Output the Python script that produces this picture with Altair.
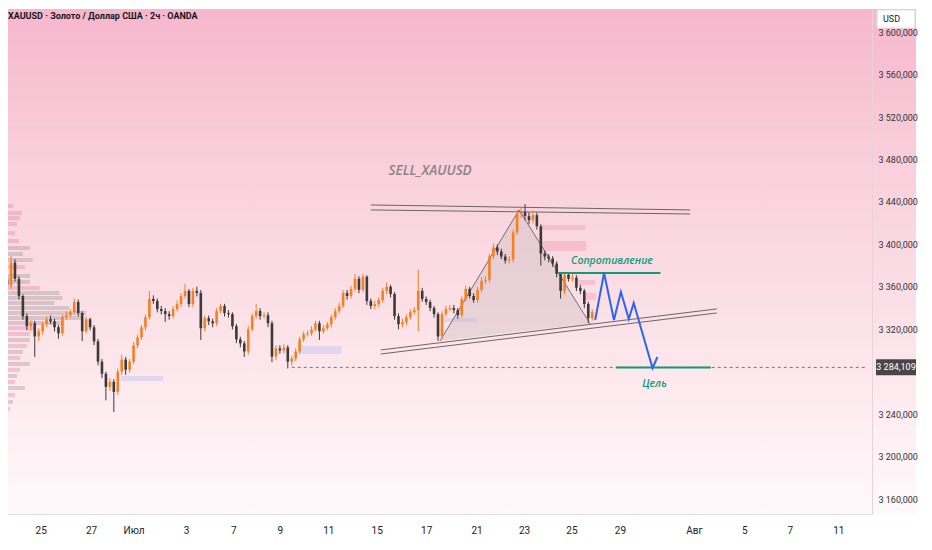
import altair as alt
import pandas as pd

W, H = 864, 505
FONT = "Roboto, Liberation Sans, sans-serif"

# ---------------- data ----------------
first_open = 3368.0
closes = [3361.0, 3382.9, 3367.6, 3351.4, 3332.4, 3322.9, 3325.7, 3313.3, 3318.1, 3324.8,
          3329.5, 3327.6, 3321.9, 3316.2, 3331.4, 3333.3, 3336.2, 3345.7, 3335.3, 3318.1,
          3329.5, 3321.9, 3308.6, 3289.5, 3278.1, 3265.7, 3270.5, 3261.0, 3280.0, 3291.4,
          3281.9, 3289.5, 3304.8, 3312.4, 3321.9, 3331.4, 3348.6, 3346.7, 3339.1, 3337.2,
          3334.3, 3332.4, 3339.1, 3343.8, 3351.4, 3356.2, 3343.8, 3356.2, 3354.3, 3321.0,
          3330.5, 3327.6, 3325.7, 3337.2, 3341.9, 3335.3, 3334.3, 3322.9, 3310.5, 3306.7,
          3299.1, 3320.0, 3332.4, 3337.2, 3332.4, 3333.3, 3325.7, 3294.3, 3301.9, 3300.0,
          3302.9, 3289.5, 3292.4, 3299.1, 3310.5, 3315.3, 3316.2, 3320.0, 3325.7, 3318.1,
          3321.0, 3324.8, 3331.4, 3337.2, 3341.9, 3354.3, 3351.4, 3358.1, 3367.6, 3357.2,
          3369.5, 3346.7, 3341.9, 3343.8, 3347.6, 3356.2, 3360.0, 3353.3, 3332.4, 3324.8,
          3326.7, 3331.4, 3336.2, 3338.1, 3356.2, 3348.6, 3345.7, 3340.0, 3334.3, 3313.3,
          3334.3, 3339.1, 3340.0, 3338.1, 3333.3, 3348.6, 3358.1, 3351.4, 3347.6, 3357.2,
          3365.7, 3366.7, 3388.6, 3397.2, 3393.3, 3388.6, 3384.8, 3385.7, 3411.4, 3428.6,
          3430.5, 3426.7, 3422.9, 3427.6, 3417.2, 3391.4, 3388.6, 3386.7, 3381.9, 3372.4,
          3356.2, 3371.4, 3367.6, 3368.6, 3359.1, 3356.2, 3343.8, 3330.5, 3336.2]
highs = [3371, 3389, 3386, 3370, 3353, 3335, 3329, 3328, 3321, 3327,
         3332, 3333, 3330, 3324, 3334, 3337, 3339, 3349, 3348, 3337,
         3332, 3331, 3324, 3311, 3292, 3280, 3274, 3273, 3283, 3296,
         3294, 3292, 3308, 3315, 3324, 3334, 3356, 3352, 3349, 3342,
         3340, 3337, 3342, 3347, 3354, 3363, 3358, 3359, 3360, 3357,
         3333, 3333, 3330, 3340, 3344, 3344, 3338, 3336, 3325, 3313,
         3309, 3323, 3335, 3344, 3340, 3336, 3336, 3328, 3305, 3305,
         3306, 3305, 3295, 3302, 3313, 3318, 3319, 3323, 3328, 3328,
         3324, 3327, 3334, 3340, 3345, 3357, 3357, 3361, 3372, 3370,
         3372, 3371, 3349, 3347, 3350, 3359, 3364, 3362, 3355, 3335,
         3330, 3334, 3339, 3341, 3376, 3359, 3351, 3348, 3342, 3336,
         3337, 3342, 3343, 3343, 3340, 3351, 3361, 3360, 3354, 3360,
         3369, 3370, 3391, 3401, 3400, 3396, 3391, 3389, 3414, 3432,
         3435, 3438, 3430, 3432, 3430, 3419, 3394, 3391, 3389, 3384,
         3374, 3374, 3374, 3372, 3371, 3362, 3358, 3346, 3339]
lows = [3358, 3358, 3365, 3348, 3329, 3319, 3318, 3294, 3309, 3315,
        3322, 3325, 3318, 3311, 3314, 3329, 3331, 3334, 3332, 3309,
        3316, 3319, 3305, 3286, 3274, 3253, 3262, 3242, 3258, 3277,
        3277, 3279, 3287, 3302, 3310, 3319, 3329, 3344, 3336, 3334,
        3327, 3329, 3330, 3337, 3341, 3349, 3341, 3341, 3351, 3310,
        3318, 3324, 3322, 3323, 3335, 3332, 3331, 3320, 3307, 3303,
        3294, 3296, 3318, 3330, 3329, 3330, 3322, 3289, 3291, 3297,
        3297, 3283, 3286, 3290, 3297, 3308, 3313, 3314, 3318, 3310,
        3316, 3319, 3322, 3329, 3335, 3340, 3348, 3349, 3356, 3354,
        3355, 3343, 3339, 3339, 3341, 3345, 3353, 3350, 3329, 3320,
        3322, 3324, 3329, 3334, 3318, 3346, 3343, 3337, 3331, 3309,
        3311, 3332, 3337, 3335, 3330, 3331, 3346, 3349, 3345, 3345,
        3355, 3363, 3364, 3386, 3390, 3386, 3382, 3382, 3383, 3409,
        3425, 3423, 3419, 3420, 3414, 3380, 3385, 3383, 3379, 3369,
        3349, 3353, 3365, 3365, 3356, 3353, 3340, 3326, 3328]

# x axis: bar positions of the date labels
x_tick_pos = [9, 21.75, 32.5, 45.75, 57.75, 69.5, 81.75, 94, 106.5, 119.25, 131.25,
              143.25, 155.5, 174.25, 187, 198.5, 210.75]
x_tick_lab = ["25", "27", "Июл", "3", "7", "9", "11", "15", "17", "21", "23", "25",
              "29", "Авг", "5", "7", "11"]
# y axis
y_tick_val = [3160, 3200, 3240, 3320, 3360, 3400, 3440, 3480, 3520, 3560, 3600]
y_tick_lab = ["3 160,000", "3 200,000", "3 240,000", "3 320,000", "3 360,000", "3 400,000",
              "3 440,000", "3 480,000", "3 520,000", "3 560,000", "3 600,000"]

# volume profile on the left (starts at bar 0)
profile_price = [3436.2, 3429.6, 3424.9, 3419.3, 3410.8, 3403.2, 3396.6, 3391.0, 3385.3,
                 3378.7, 3370.3, 3364.6, 3358.9, 3354.2, 3349.5, 3344.8, 3340.1, 3335.4,
                 3330.7, 3326.0, 3321.2, 3315.6, 3309.9, 3304.3, 3298.6, 3293.0, 3287.3,
                 3281.7, 3276.0, 3270.4, 3264.7, 3258.1, 3251.5, 3244.9]
profile_len = [2, 4.25, 3.75, 3, 2.5, 3.5, 6.25, 4.5, 7, 5, 6.25, 6.25, 8.75, 13.75, 14.5,
               12.5, 16.25, 20.5, 19.5, 15, 7.5, 6.25, 6.25, 5.5, 4.5, 3.75, 6.25, 3.75,
               3, 2.5, 5, 2.5, 2, 1.25]
profile_kind = ["p", "p", "p", "p", "p", "p", "g", "g", "g", "p", "g", "g", "p", "g", "g",
                "g", "g", "g", "g", "g", "p", "p", "g", "p", "g", "p", "g", "p", "g", "p",
                "g", "p", "g", "p"]

# zones (order blocks)
zone_x1 = [29.25, 74.25, 110.75, 135.75, 135.75, 145.0, 146.75]
zone_x2 = [40.0, 85.0, 119.25, 146.75, 147.0, 149.25, 149.5]
zone_y1 = [3276.0, 3304.3, 3330.7, 3418.3, 3403.2, 3366.5, 3354.2]
zone_y2 = [3271.3, 3296.7, 3326.9, 3413.6, 3393.8, 3361.8, 3347.6]
zone_kind = ["blue", "blue", "blue", "pink", "pink", "pink", "pink"]

# triangle pattern
tri_bar = [110, 130, 148]
tri_top = [3309.0, 3432.5, 3325.0]
tri_base = [3309.0, 3318.4, 3325.0]

# channel lines
ch_x1 = [92.5, 92.5, 95, 95]
ch_x2 = [173.25, 173.25, 180, 180]
ch_y1 = [3437.2, 3432.5, 3300.5, 3296.7]
ch_y2 = [3432.5, 3428.7, 3339.2, 3335.4]

resist_level, resist_from, resist_to = 3373.1, 140, 165.75
target_level, target_from, target_to = 3284.0, 154.5, 178.5
last_price, dash_from, dash_to = 3284.109, 72.5, 218

zig_bar = [149.25, 151.5, 154, 155.75, 157.75, 159, 163.75, 165]
zig_price = [3328.8, 3373.1, 3328.8, 3355.2, 3329.7, 3344.8, 3283.5, 3293.9]

texts = ["SELL_XAUUSD", "Сопротивление", "Цель"]
text_bar = [107.5, 153.5, 164.25]
text_price = [3469.2, 3384.4, 3268.5]

title_text = "XAUUSD · Золото / Доллар США · 2ч · OANDA"

# ---------------- frames ----------------
opens = [first_open] + closes[:-1]
candles = pd.DataFrame({"bar": [i + 0.5 for i in range(len(closes))], "open": opens,
                        "close": closes, "high": highs, "low": lows})
profile = pd.DataFrame({"price": profile_price, "start": [0] * len(profile_len),
                        "len": profile_len, "kind": profile_kind})
zones = pd.DataFrame({"x1": zone_x1, "x2": zone_x2, "y1": zone_y1, "y2": zone_y2, "kind": zone_kind})
tri = pd.DataFrame({"bar": tri_bar, "top": tri_top, "base": tri_base})
chan = pd.DataFrame({"x1": ch_x1, "x2": ch_x2, "y1": ch_y1, "y2": ch_y2})
greens = pd.DataFrame({"x1": [resist_from, target_from], "x2": [resist_to, target_to],
                       "y": [resist_level, target_level]})
dash = pd.DataFrame({"x1": [dash_from], "x2": [dash_to], "y": [last_price]})
zig = pd.DataFrame({"bar": zig_bar, "price": zig_price, "o": list(range(len(zig_bar)))})
notes = pd.DataFrame({"t": texts, "bar": text_bar, "price": text_price})

# ---------------- scales / axes ----------------
xs = alt.Scale(domain=[2, 218], nice=False, zero=False)
ys = alt.Scale(domain=[3145.9, 3621.9], nice=False, zero=False)

x_expr = " : ".join(f"datum.value == {p} ? '{l}'" for p, l in zip(x_tick_pos, x_tick_lab)) + " : ''"
y_expr = " : ".join(f"datum.value == {v} ? '{l}'" for v, l in zip(y_tick_val, y_tick_lab)) + " : ''"

x_axis = alt.Axis(values=x_tick_pos, labelExpr=x_expr, title=None, grid=False, ticks=False,
                  domainColor="#e4dadd", labelPadding=11, labelFontSize=10, labelColor="#222",
                  labelFont=FONT, zindex=2)
y_axis = alt.Axis(values=y_tick_val, labelExpr=y_expr, title=None, grid=False, ticks=False,
                  orient="right", domainColor="#e9d3da", labelPadding=6, labelFontSize=9,
                  labelColor="#333", labelFont=FONT, zindex=2)


def X(f):
    return alt.X(f, type="quantitative", scale=xs, axis=x_axis)


def Y(f):
    return alt.Y(f, type="quantitative", scale=ys, axis=y_axis)


ORANGE, DARK, GREEN, BLUE = "#f5801f", "#3a3a3a", "#109a78", "#2f66e8"

bg = alt.Chart(alt.Data(values=[{"k": 1}])).mark_rect(
    color=alt.LinearGradient(gradient="linear", x1=0, x2=0, y1=0, y2=1,
                             stops=[alt.GradientStop(color="#f6b7cc", offset=0),
                                    alt.GradientStop(color="#f9cfdb", offset=0.3),
                                    alt.GradientStop(color="#fbe0e7", offset=0.6),
                                    alt.GradientStop(color="#fff9fb", offset=1)])
).encode(x=alt.value(0), x2=alt.value(W + 44), y=alt.value(0), y2=alt.value(H))

prof_p = alt.Chart(profile).transform_filter("datum.kind == 'p'").mark_rule(
    strokeWidth=4, clip=True, opacity=0.4, color="#ec86a5"
).encode(x=X("start"), x2="len", y=Y("price"))
prof_g = alt.Chart(profile).transform_filter("datum.kind == 'g'").mark_rule(
    strokeWidth=4, clip=True, opacity=0.32, color="#8f888b"
).encode(x=X("start"), x2="len", y=Y("price"))

zone_b = alt.Chart(zones).transform_filter("datum.kind == 'blue'").mark_rect(
    opacity=0.55, color="#cdc9f3").encode(x=X("x1"), x2="x2", y=Y("y1"), y2="y2")
zone_p = alt.Chart(zones).transform_filter("datum.kind == 'pink'").mark_rect(
    opacity=0.35, color="#f08fa9").encode(x=X("x1"), x2="x2", y=Y("y1"), y2="y2")

tri_fill = alt.Chart(tri).mark_area(color="#b4adad", opacity=0.25).encode(x=X("bar"), y=Y("top"), y2="base")
tri_line = alt.Chart(tri).mark_line(color="#555", strokeWidth=0.8).encode(x=X("bar"), y=Y("top"))

chan_l = alt.Chart(chan).mark_rule(color="#6d6668", strokeWidth=1).encode(
    x=X("x1"), x2="x2", y=Y("y1"), y2="y2")

dash_l = alt.Chart(dash).mark_rule(color="#7a7275", strokeWidth=1, strokeDash=[3, 3]).encode(
    x=X("x1"), x2="x2", y=Y("y"))

cond = alt.condition("datum.close >= datum.open", alt.value(ORANGE), alt.value(DARK))
wick = alt.Chart(candles).mark_rule(strokeWidth=1, clip=True).encode(
    x=X("bar"), y=Y("low"), y2="high", color=cond)
body = alt.Chart(candles).mark_bar(size=2.6, clip=True).encode(
    x=X("bar"), y=Y("open"), y2="close", color=cond)

green_l = alt.Chart(greens).mark_rule(color=GREEN, strokeWidth=2).encode(x=X("x1"), x2="x2", y=Y("y"))

zig_l = alt.Chart(zig).mark_line(color=BLUE, strokeWidth=2).encode(x=X("bar"), y=Y("price"), order="o:Q")

note_sell = alt.Chart(notes.iloc[[0]]).mark_text(
    font="Open Sans, sans-serif", fontSize=13.5, fontStyle="italic", fontWeight=600,
    color="#8a8487", align="center"
).encode(x=X("bar"), y=Y("price"), text="t:N")
note_green = alt.Chart(notes.iloc[[1, 2]]).mark_text(
    font="Open Sans, sans-serif", fontSize=10.5, fontStyle="italic", fontWeight=600,
    color=GREEN, align="center"
).encode(x=X("bar"), y=Y("price"), text="t:N")

title = alt.Chart(alt.Data(values=[{"t": title_text}])).mark_text(
    font=FONT, fontSize=9, fontWeight="bold", color="#131722", align="left", baseline="middle"
).encode(x=alt.value(0), y=alt.value(7), text="t:N")

tag_df = pd.DataFrame({"price": [last_price], "t": ["3 284,109"]})
tag_box = alt.Chart(tag_df).mark_point(
    shape="M-2.5,-1L2.5,-1L2.5,1L-2.5,1Z", size=256, filled=True, color="#4a4648", opacity=1
).encode(x=alt.value(W + 24), y=Y("price"))
tag_txt = alt.Chart(tag_df).mark_text(font=FONT, fontSize=9, color="white", align="center",
                                      baseline="middle").encode(x=alt.value(W + 24), y=Y("price"), text="t:N")

usd_box = alt.Chart(alt.Data(values=[{"t": "USD"}])).mark_point(
    shape="M-2.1,-1L2.1,-1L2.1,1L-2.1,1Z", size=324, filled=True, color="white", opacity=1,
    stroke="#e3dde0", strokeWidth=1
).encode(x=alt.value(W + 24), y=alt.value(10))
usd_txt = alt.Chart(alt.Data(values=[{"t": "USD"}])).mark_text(
    font=FONT, fontSize=9, color="#131722", align="left", baseline="middle"
).encode(x=alt.value(W + 11), y=alt.value(10), text="t:N")

chart = alt.layer(
    bg, prof_p, prof_g, zone_b, zone_p, tri_fill, tri_line, chan_l, dash_l, wick, body, green_l, zig_l,
    note_sell, note_green, title, tag_box, tag_txt, usd_box, usd_txt
).properties(
    width=W, height=H, padding={"left": 0, "top": 0, "right": 0, "bottom": 0}
).configure_view(strokeWidth=0)

chart.save("out.html", embed_options={"renderer": "svg", "actions": False})
